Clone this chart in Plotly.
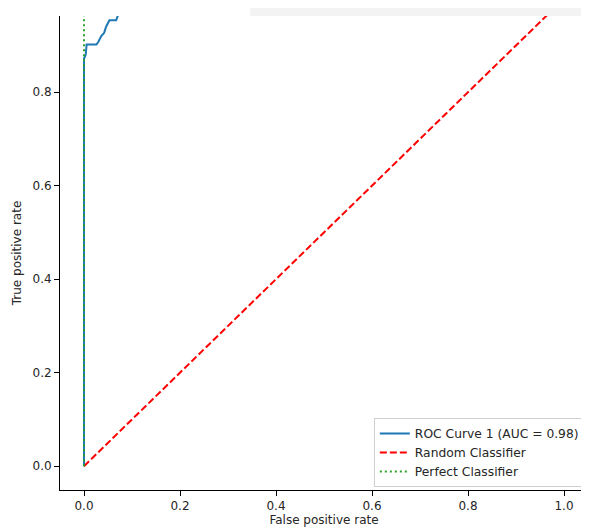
import plotly.graph_objects as go

# ROC curve values
roc_fpr = [0, 0, 0.0035, 0.0055, 0.026, 0.030, 0.036, 0.042, 0.046, 0.053, 0.067, 0.071, 0.08, 0.12, 0.25, 0.45, 1.0]
roc_tpr = [0, 0.872, 0.880, 0.902, 0.902, 0.908, 0.920, 0.927, 0.940, 0.954, 0.954, 0.965, 0.975, 0.985, 0.995, 1.0, 1.0]

random_x = [0, 1]
random_y = [0, 1]

perfect_x = [0, 0, 1]
perfect_y = [0, 1, 1]

x_ticks = [0.0, 0.2, 0.4, 0.6, 0.8, 1.0]
y_ticks = [0.0, 0.2, 0.4, 0.6, 0.8]

FONT = "DejaVu Sans, Liberation Sans, sans-serif"
TXT = "#262626"

fig = go.Figure()
fig.add_trace(go.Scatter(x=roc_fpr, y=roc_tpr, mode="lines", name="ROC Curve 1 (AUC = 0.98)",
                         line=dict(color="#1f77b4", width=2)))
fig.add_trace(go.Scatter(x=random_x, y=random_y, mode="lines", name="Random Classifier",
                         line=dict(color="#ff0000", width=2, dash="7px,3px")))
fig.add_trace(go.Scatter(x=perfect_x, y=perfect_y, mode="lines", name="Perfect Classifier",
                         line=dict(color="#2ca02c", width=2, dash="2px,3px")))

axis_common = dict(showgrid=False, zeroline=False, showline=True, linecolor="#000000", linewidth=1,
                   ticks="outside", ticklen=5, tickwidth=1, tickcolor="#000000",
                   tickfont=dict(family=FONT, size=12, color=TXT), mirror=False, automargin=False)

fig.update_layout(
    width=581, height=520,
    margin=dict(l=52, r=1, t=8, b=38, autoexpand=False),
    paper_bgcolor="white", plot_bgcolor="white",
    font=dict(family=FONT, size=12, color=TXT),
    xaxis=dict(range=[-0.05, 1.05], tickvals=x_ticks, ticktext=[f"{v:.1f}" for v in x_ticks],
               title=dict(text="False positive rate", font=dict(size=12), standoff=2), **axis_common),
    yaxis=dict(range=[-0.051, 0.963], tickvals=y_ticks, ticktext=[f"{v:.1f}" for v in y_ticks],
               title=dict(text="True positive rate", font=dict(size=12), standoff=8), **axis_common),
    legend=dict(x=0.994, y=0.0064, xanchor="right", yanchor="bottom", bgcolor="white",
                bordercolor="#d0d0d0", borderwidth=1, font=dict(family=FONT, size=12.3, color=TXT),
                itemwidth=30, tracegroupgap=0, entrywidth=172, entrywidthmode="pixels"),
    showlegend=True,
    shapes=[
        dict(type="rect", xref="paper", yref="paper", x0=0.36, x1=1.0, y0=1.0, y1=1.02,
             fillcolor="#f3f3f3", line=dict(width=0), layer="below"),
        dict(type="line", xref="paper", yref="paper", x0=1.0, x1=1.0, y0=0, y1=1.02,
             line=dict(color="#9a9a9a", width=1)),
    ],
)

fig.write_html("out.html")
